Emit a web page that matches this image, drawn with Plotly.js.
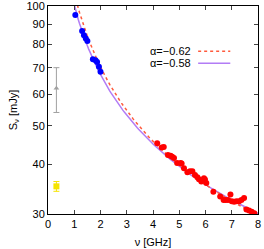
<!DOCTYPE html>
<html><head><meta charset="utf-8">
<script src="https://cdn.plot.ly/plotly-3.0.1.min.js"></script>
<style>html,body{margin:0;padding:0;background:#fff}#c{width:264px;height:249px}</style>
</head><body><div id="c"></div>
<script>
// Blue data (1-2 GHz)
const blueNu = [1.04, 1.30, 1.37, 1.44, 1.50, 1.71, 1.81, 1.87, 1.94, 2.00];
const blueS  = [94.9, 86.5, 84.5, 82.9, 81.7, 73.5, 73.1, 72.3, 70.4, 68.4];
// Red data (4-8 GHz)
const redNu = [4.16, 4.33, 4.41, 4.57, 4.67, 4.73, 4.80, 4.92, 5.05, 5.09, 5.18, 5.31, 5.41, 5.50, 5.60, 5.69, 5.75, 5.84, 5.94, 5.98, 6.03, 6.30, 6.56, 6.69, 6.77, 6.86, 6.95, 7.00, 7.09, 7.18, 7.28, 7.37, 7.47, 7.56, 7.66, 7.76, 7.86];
const redS  = [45.2, 44.1, 44.2, 42.2, 42.0, 41.8, 41.5, 40.3, 40.3, 40.2, 39.1, 38.2, 38.4, 38.4, 37.6, 37.1, 36.7, 36.2, 36.9, 36.6, 35.9, 34.1, 33.2, 32.5, 32.5, 32.5, 33.6, 32.3, 32.2, 32.3, 32.3, 32.5, 32.9, 30.8, 30.6, 30.4, 30.1];
// Gray triangle with error
const grayNu = [0.32], grayS = [62.1], grayErrPlus = [7.9], grayErrMinus = [8.1];
// Yellow square with error
const yellowNu = [0.32], yellowS = [35.2], yellowErr = [1.0];
// Power-law fits
const fitAlpha = [-0.62, -0.58];
const fitAmp = [107.9, 100.5];
const fitNames = ['α=−0.62', 'α=−0.58'];
const yTicks = [30, 40, 50, 60, 70, 80, 90, 100];
const xTicks = [0, 1, 2, 3, 4, 5, 6, 7, 8];
const fitNu = [];
for (let v = 0.9; v <= 8.0001; v += 0.05) fitNu.push(v);

const fitColors = ['#ff5a3c', '#b27cf5'];
const traces = [];
traces.push({x: fitNu, y: fitNu.map(v => fitAmp[1] * Math.pow(v, fitAlpha[1])), mode: 'lines', line: {color: fitColors[1], width: 1.5}, showlegend: false, hoverinfo: 'skip'});
traces.push({x: fitNu, y: fitNu.map(v => fitAmp[0] * Math.pow(v, fitAlpha[0])), mode: 'lines', line: {color: fitColors[0], width: 1.5, dash: '3px,3px'}, showlegend: false, hoverinfo: 'skip'});
traces.push({x: blueNu, y: blueS, mode: 'markers', marker: {color: '#0000ff', size: 6}, showlegend: false});
traces.push({x: redNu, y: redS, mode: 'markers', marker: {color: '#ff0000', size: 6}, showlegend: false});
traces.push({x: grayNu, y: grayS, mode: 'markers', marker: {color: '#a0a0a0', size: 5, symbol: 'triangle-up'},
  error_y: {type: 'data', symmetric: false, array: grayErrPlus, arrayminus: grayErrMinus, color: '#a0a0a0', thickness: 1, width: 3}, showlegend: false});
traces.push({x: yellowNu, y: yellowS, mode: 'markers', marker: {color: '#f5e400', size: 6, symbol: 'square'},
  error_y: {type: 'data', array: yellowErr, color: '#f5e400', thickness: 1, width: 3}, showlegend: false});

const fnt = {family: 'Liberation Sans, Arial, sans-serif', size: 11, color: '#000'};
const legY = [0.783, 0.725];
const layout = {
  width: 264, height: 249,
  margin: {l: 48, r: 6, t: 6, b: 35},
  paper_bgcolor: '#fff', plot_bgcolor: '#fff',
  font: fnt,
  xaxis: {range: [0, 8], tickvals: xTicks, ticks: 'inside', ticklen: 4, mirror: 'ticks',
    showline: true, linecolor: '#000', linewidth: 1, showgrid: false, zeroline: false,
    title: {text: 'ν [GHz]', font: fnt, standoff: 9}, tickfont: fnt},
  yaxis: {type: 'log', range: [Math.log10(29.99), Math.log10(100.05)], tickvals: yTicks, ticktext: yTicks.map(String),
    ticklabeloverflow: 'allow',
    ticks: 'inside', ticklen: 4, mirror: 'ticks', showline: true, linecolor: '#000', linewidth: 1, showgrid: false, zeroline: false,
    title: {text: 'S<sub>ν</sub> [mJy]', font: fnt, standoff: 6}, tickfont: fnt},
  annotations: [
    {xref: 'paper', yref: 'paper', x: 0.687, y: legY[0], xanchor: 'right', yanchor: 'middle', text: fitNames[0], showarrow: false, font: fnt, borderpad: 0},
    {xref: 'paper', yref: 'paper', x: 0.687, y: legY[1], xanchor: 'right', yanchor: 'middle', text: fitNames[1], showarrow: false, font: fnt, borderpad: 0}
  ],
  shapes: [
    {type: 'line', xref: 'paper', yref: 'paper', x0: 0.715, x1: 0.868, y0: legY[0], y1: legY[0], line: {color: fitColors[0], width: 1.5, dash: '3px,3px'}},
    {type: 'line', xref: 'paper', yref: 'paper', x0: 0.715, x1: 0.868, y0: legY[1], y1: legY[1], line: {color: fitColors[1], width: 1.5}}
  ]
};
Plotly.newPlot('c', traces, layout, {staticPlot: true, displayModeBar: false});
</script></body></html>
